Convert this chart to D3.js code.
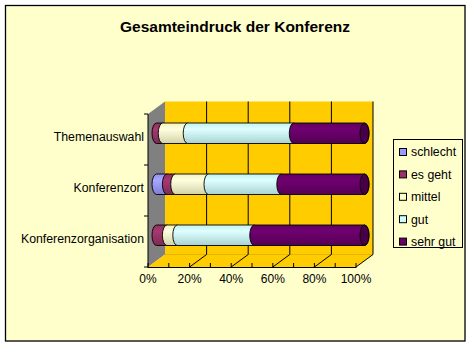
<!DOCTYPE html>
<html><head><meta charset="utf-8">
<script src="https://cdn.jsdelivr.net/npm/d3@7"></script>
<style>html,body{margin:0;padding:0;background:#fff;}svg{display:block;}</style>
</head><body>
<script>
const title = "Gesamteindruck der Konferenz";
const categories = ["Themenauswahl", "Konferenzort", "Konferenzorganisation"];
const seriesNames = ["schlecht", "es geht", "mittel", "gut", "sehr gut"];
const schlecht = [0, 5, 0];
const esGeht = [3, 4, 5];
const mittel = [12, 16, 5];
const gut = [51, 35, 37];
const sehrGut = [34, 40, 53];
const seriesColors = ["#9999FF", "#993366", "#FFFFCC", "#CCFFFF", "#660066"];
const xTicks = [0, 20, 40, 60, 80, 100];
const xMinorTicks = [0, 10, 20, 30, 40, 50, 60, 70, 80, 90, 100];

const W = 472, H = 346;
const svg = d3.select("body").append("svg").attr("width", W).attr("height", H);
const font = "Arial, 'Liberation Sans', sans-serif";

// frame
svg.append("rect").attr("x", 5.5).attr("y", 5.5).attr("width", 459.5).attr("height", 335.5)
  .attr("fill", "#FFFFCC").attr("stroke", "#000").attr("stroke-width", 1.3);

svg.append("text").attr("x", 235).attr("y", 32).attr("text-anchor", "middle")
  .attr("font-family", font).attr("font-weight", "bold").attr("font-size", 15.5)
  .text(title);

// geometry
const fx0 = 148, fy1 = 267, fy0 = 114;
const dx = 17, dy = -12.5;
const x = d3.scaleLinear().domain([0, 100]).range([fx0, fx0 + 208]);
const y = d3.scaleBand().domain(categories).range([fy0, fy1]);

// walls
const g = svg.append("g");
// left wall
g.append("path").attr("d", `M${fx0},${fy0}L${fx0+dx},${fy0+dy}L${fx0+dx},${fy1+dy}L${fx0},${fy1}Z`)
  .attr("fill", "#808080");
// back wall
g.append("rect").attr("x", x(0) + dx).attr("y", fy0 + dy).attr("width", x(100) - x(0)).attr("height", fy1 - fy0)
  .attr("fill", "#FFCC00");
// floor
g.append("path").attr("d", `M${x(0)},${fy1}L${x(100)},${fy1}L${x(100)+dx},${fy1+dy}L${x(0)+dx},${fy1+dy}Z`)
  .attr("fill", "#FFCC00");
g.append("line").attr("x1", x(0) + dx).attr("x2", x(100) + dx).attr("y1", fy1 + dy).attr("y2", fy1 + dy)
  .attr("stroke", "#E6B400").attr("stroke-width", 1);

// gridlines on back wall + floor
xTicks.forEach(t => {
  if (t > 0) {
    g.append("line").attr("x1", x(t) + dx).attr("x2", x(t) + dx).attr("y1", fy0 + dy).attr("y2", fy1 + dy)
      .attr("stroke", "#000").attr("stroke-width", 1);
    g.append("line").attr("x1", x(t)).attr("x2", x(t) + dx).attr("y1", fy1).attr("y2", fy1 + dy)
      .attr("stroke", "#000").attr("stroke-width", 1);
  }
});

// axes lines
g.append("line").attr("x1", fx0).attr("x2", fx0).attr("y1", fy0).attr("y2", fy1).attr("stroke", "#000");
g.append("line").attr("x1", fx0).attr("x2", x(100)).attr("y1", fy1 + 0.5).attr("y2", fy1 + 0.5).attr("stroke", "#000");
xMinorTicks.forEach(t => {
  g.append("line").attr("x1", x(t)).attr("x2", x(t)).attr("y1", fy1 - 4).attr("y2", fy1 + 1).attr("stroke", "#000");
});
// category ticks
y.domain().forEach(c => {
  g.append("line").attr("x1", fx0 - 4).attr("x2", fx0).attr("y1", y(c)).attr("y2", y(c)).attr("stroke", "#000");
});
g.append("line").attr("x1", fx0 - 4).attr("x2", fx0).attr("y1", fy1).attr("y2", fy1).attr("stroke", "#000");

// x labels
xTicks.forEach(t => {
  svg.append("text").attr("x", x(t)).attr("y", 283).attr("text-anchor", "middle")
    .attr("font-family", font).attr("font-size", 12).text(t + "%");
});
// category labels
categories.forEach(c => {
  svg.append("text").attr("x", 144).attr("y", y(c) + y.bandwidth() / 2 + 1).attr("text-anchor", "end")
    .attr("font-family", font).attr("font-size", 12.3).text(c);
});

// gradients
const defs = svg.append("defs");
seriesColors.forEach((col, i) => {
  const c = d3.color(col);
  const gr = defs.append("linearGradient").attr("id", "gr" + i).attr("x1", 0).attr("x2", 0).attr("y1", 0).attr("y2", 1);
  gr.append("stop").attr("offset", "0%").attr("stop-color", c.darker(0.15));
  gr.append("stop").attr("offset", "30%").attr("stop-color", c.brighter(0.25));
  gr.append("stop").attr("offset", "100%").attr("stop-color", c.darker(0.55));
});

// bars
const seriesArrays = [schlecht, esGeht, mittel, gut, sehrGut];
const rows = categories.map((c, ci) => {
  const o = { cat: c };
  seriesNames.forEach((s, si) => o[s] = seriesArrays[si][ci]);
  return o;
});
const stacked = d3.stack().keys(seriesNames)(rows);
const barH = 20.5, rx = 4.5;
const bg = svg.append("g");
categories.forEach((c, ci) => {
  const yc = y(c) + y.bandwidth() / 2 + dy / 2;
  const yT = yc - barH / 2, yB = yc + barH / 2, ry = barH / 2;
  let lastX = null;
  stacked.forEach((ser, si) => {
    const d = ser[ci];
    if (d[1] - d[0] <= 0) return;
    const x0 = x(d[0]) + dx / 2, x1 = x(d[1]) + dx / 2;
    bg.append("path")
      .attr("d", `M${x0},${yT}L${x1},${yT}A${rx},${ry} 0 0 1 ${x1},${yB}L${x0},${yB}A${rx},${ry} 0 0 1 ${x0},${yT}Z`)
      .attr("fill", `url(#gr${si})`).attr("stroke", "#000").attr("stroke-width", 0.9);
    lastX = { x1, si };
  });
  if (lastX) {
    bg.append("ellipse").attr("cx", lastX.x1).attr("cy", yc).attr("rx", rx).attr("ry", ry)
      .attr("fill", d3.color(seriesColors[lastX.si]).darker(1.0)).attr("stroke", "#000").attr("stroke-width", 0.9);
  }
});

// legend
const lg = svg.append("g");
lg.append("rect").attr("x", 393.5).attr("y", 139.5).attr("width", 69).attr("height", 108)
  .attr("fill", "#FFFFCC").attr("stroke", "#000").attr("stroke-width", 1);
seriesNames.forEach((s, i) => {
  const yy = 152 + i * 22.4;
  lg.append("rect").attr("x", 399.5).attr("y", yy - 3.5).attr("width", 7).attr("height", 7)
    .attr("fill", seriesColors[i]).attr("stroke", "#000").attr("stroke-width", 1);
  lg.append("text").attr("x", 411).attr("y", yy + 4.3).attr("font-family", font).attr("font-size", 12.3).text(s);
});
</script>
</body></html>
